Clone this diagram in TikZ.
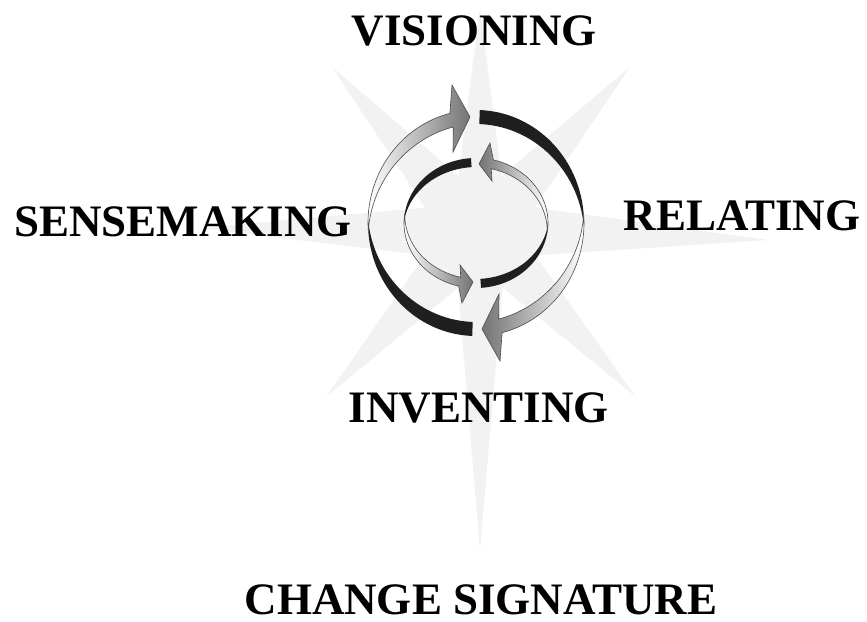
\documentclass[tikz,border=0pt]{standalone}
\usepackage{fontspec}
\setmainfont{Liberation Serif}
\begin{document}
\begin{tikzpicture}[x=1pt,y=-1pt,
  lbl/.style={font=\fontsize{45}{45}\selectfont\bfseries, inner sep=0pt, anchor=base},
  darkband/.style={fill=black!88},
  grayarrow/.style={draw=black!70, line width=0.6pt},
  starfill/.style={fill=black!5}]
\def\cx{476}\def\cy{223}
\def\oRx{108}\def\oRy{113}\def\oT{14}
\def\iRx{72}\def\iRy{65}\def\iT{9}
\fill[white] (0,0) rectangle (867,621);
\useasboundingbox (0,0) rectangle (867,621);
% faint compass star
\fill[starfill] (480,8) -- (501.5,176) -- (630,67) -- (534.8,207.6) -- (768,240)
  -- (535.2,255.4) -- (636,397) -- (502.5,287.6) -- (480,550) -- (458,287.8)
  -- (326,397) -- (424.8,255.4) -- (200,228) -- (425.2,207.6) -- (332,67)
  -- (458.5,176) -- cycle;
% ---------- outer left arrow ----------
\fill[darkband] plot[domain=92:182,samples=46,variable=\t] ({\cx+\oRx*cos(\t)},{\cy+\oRy*sin(\t)})
  -- plot[domain=182:92,samples=46,variable=\t]
   ({\cx+(\oRx-\oT*sin(90*(182-\t)/90))*cos(\t)},{\cy+(\oRy-\oT*sin(90*(182-\t)/90))*sin(\t)}) -- cycle;
\shadedraw[grayarrow, left color=white, right color=black!55]
  plot[domain=176:256,samples=41,variable=\t] ({\cx+\oRx*cos(\t)},{\cy+\oRy*sin(\t)})
  -- (452,85) -- (470,117) -- (453,152)
  -- plot[domain=256:176,samples=41,variable=\t]
   ({\cx+(\oRx-\oT*sin(90*(\t-176)/80))*cos(\t)},{\cy+(\oRy-\oT*sin(90*(\t-176)/80))*sin(\t)}) -- cycle;
% ---------- outer right arrow ----------
\fill[darkband] plot[domain=272:362,samples=46,variable=\t] ({\cx+\oRx*cos(\t)},{\cy+\oRy*sin(\t)})
  -- plot[domain=362:272,samples=46,variable=\t]
   ({\cx+(\oRx-\oT*sin(90*(362-\t)/90))*cos(\t)},{\cy+(\oRy-\oT*sin(90*(362-\t)/90))*sin(\t)}) -- cycle;
\shadedraw[grayarrow, left color=black!55, right color=white]
  plot[domain=356:436,samples=41,variable=\t] ({\cx+\oRx*cos(\t)},{\cy+\oRy*sin(\t)})
  -- (500,361) -- (482,329) -- (499,294)
  -- plot[domain=436:356,samples=41,variable=\t]
   ({\cx+(\oRx-\oT*sin(90*(\t-356)/80))*cos(\t)},{\cy+(\oRy-\oT*sin(90*(\t-356)/80))*sin(\t)}) -- cycle;
% ---------- inner left arrow ----------
\fill[darkband] plot[domain=182:266,samples=40,variable=\t] ({\cx+\iRx*cos(\t)},{\cy+\iRy*sin(\t)})
  -- plot[domain=266:182,samples=40,variable=\t]
   ({\cx+(\iRx-\iT*sin(90*(\t-182)/84))*cos(\t)},{\cy+(\iRy-\iT*sin(90*(\t-182)/84))*sin(\t)}) -- cycle;
\shadedraw[grayarrow, left color=white, right color=black!55]
  plot[domain=188:104,samples=40,variable=\t] ({\cx+\iRx*cos(\t)},{\cy+\iRy*sin(\t)})
  -- (462,303) -- (473,282) -- (460,265)
  -- plot[domain=104:188,samples=40,variable=\t]
   ({\cx+(\iRx-\iT*sin(90*(188-\t)/84))*cos(\t)},{\cy+(\iRy-\iT*sin(90*(188-\t)/84))*sin(\t)}) -- cycle;
% ---------- inner right arrow ----------
\fill[darkband] plot[domain=2:86,samples=40,variable=\t] ({\cx+\iRx*cos(\t)},{\cy+\iRy*sin(\t)})
  -- plot[domain=86:2,samples=40,variable=\t]
   ({\cx+(\iRx-\iT*sin(90*(\t-2)/84))*cos(\t)},{\cy+(\iRy-\iT*sin(90*(\t-2)/84))*sin(\t)}) -- cycle;
\shadedraw[grayarrow, left color=black!55, right color=white]
  plot[domain=368:284,samples=40,variable=\t] ({\cx+\iRx*cos(\t)},{\cy+\iRy*sin(\t)})
  -- (490,143) -- (479,164) -- (492,181)
  -- plot[domain=284:368,samples=40,variable=\t]
   ({\cx+(\iRx-\iT*sin(90*(368-\t)/84))*cos(\t)},{\cy+(\iRy-\iT*sin(90*(368-\t)/84))*sin(\t)}) -- cycle;
% ---------- labels ----------
\node[lbl] (vis) at (474.5,45) {VISIONING};
\node[lbl] (sense) at (183,236) {SENSEMAKING};
\node[lbl] (rel) at (742,230) {RELATING};
\node[lbl] (inv) at (479,422) {INVENTING};
\node[lbl] (chg) at (481,614) {CHANGE SIGNATURE};
\end{tikzpicture}
\end{document}
